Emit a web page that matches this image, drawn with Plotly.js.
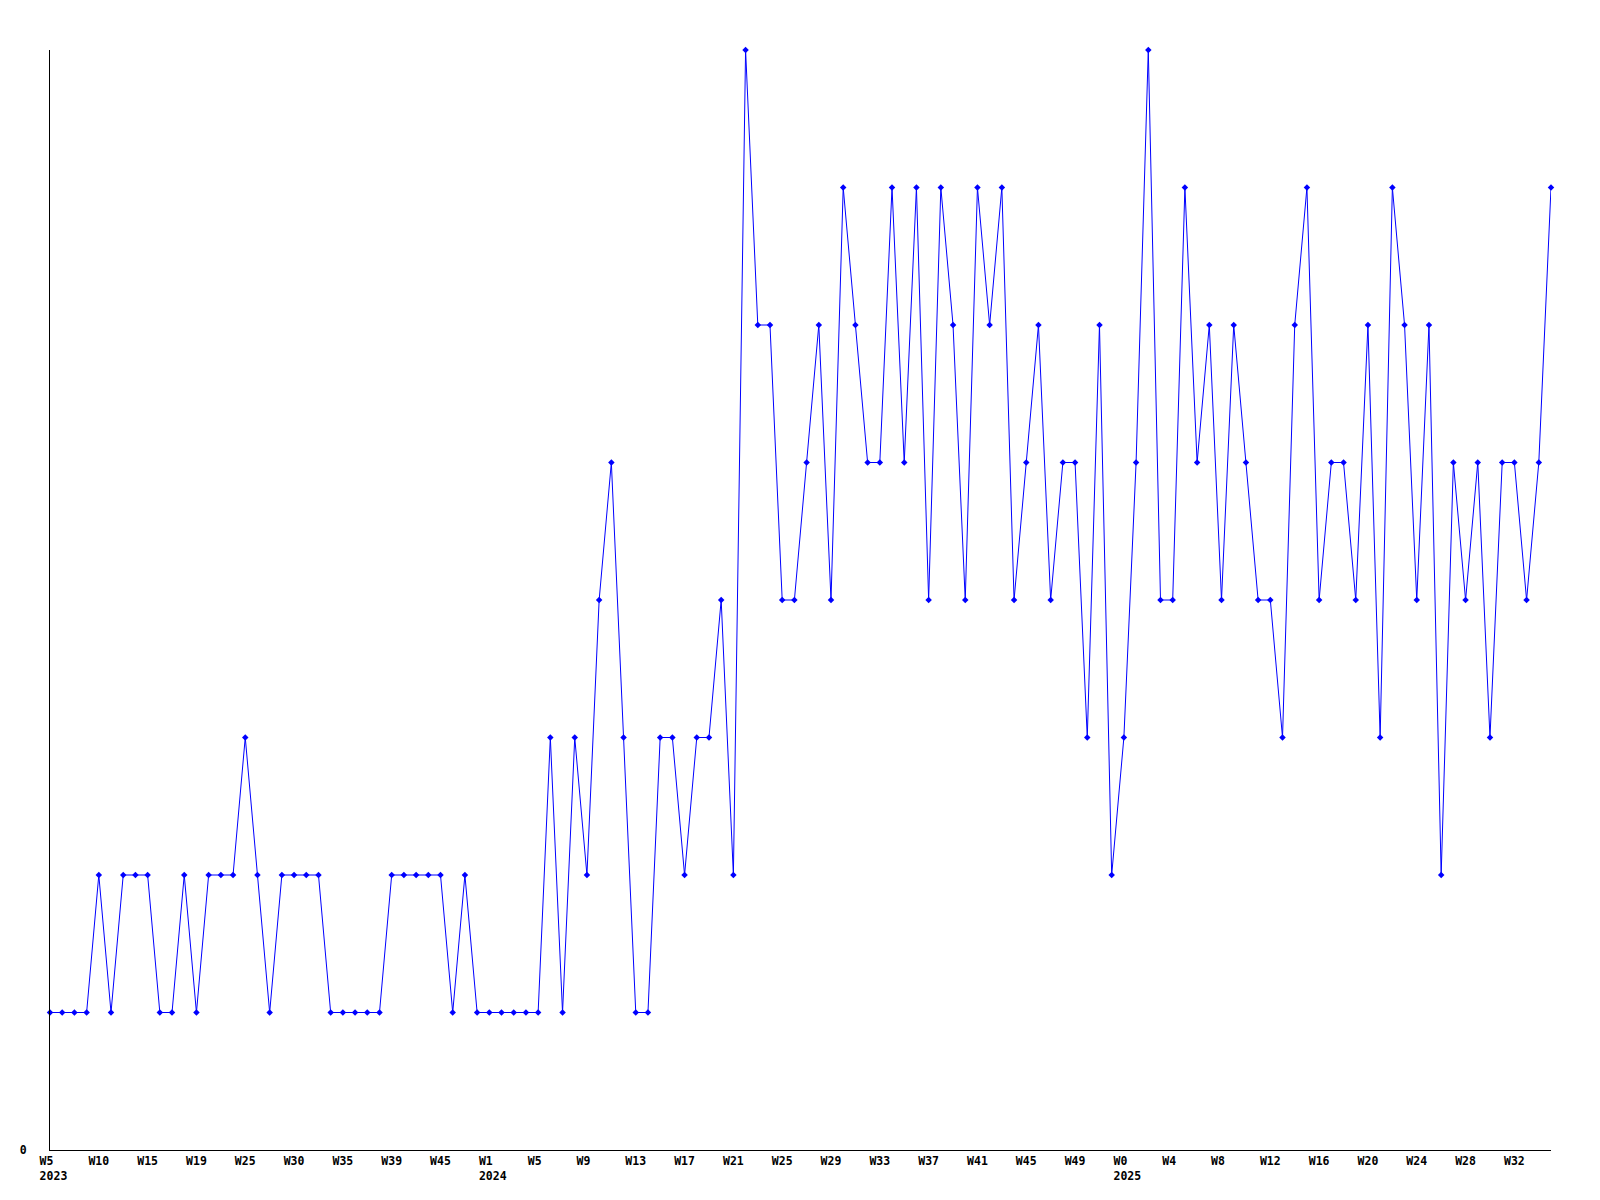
<!DOCTYPE html>
<html>
<head>
<meta charset="utf-8">
<script src="https://cdn.plot.ly/plotly-3.0.1.min.js"></script>
<style>html,body{margin:0;padding:0;background:#fff;}#chart{width:1600px;height:1200px;}</style>
</head>
<body>
<div id="chart"></div>
<script>
// Values, one per sample, in order
const values = [
  1,1,1,1,2,1,2,2,2,1,
  1,2,1,2,2,2,3,2,1,2,
  2,2,2,1,1,1,1,1,2,2,
  2,2,2,1,2,1,1,1,1,1,
  1,3,1,3,2,4,5,3,1,1,
  3,3,2,3,3,4,2,8,6,6,
  4,4,5,6,4,7,6,5,5,7,
  5,7,4,7,6,4,7,6,7,4,
  5,6,4,5,5,3,6,2,3,5,
  8,4,4,7,5,6,4,6,5,4,
  4,3,6,7,4,5,5,4,6,3,
  7,6,4,6,2,5,4,5,3,5,
  5,4,5,7
];
// Tick labels, one every 4 samples
const weekLabels = [
  "W5","W10","W15","W19","W25","W30","W35","W39","W45",
  "W1","W5","W9","W13","W17","W21","W25","W29","W33","W37","W41","W45","W49",
  "W0","W4","W8","W12","W16","W20","W24","W28","W32"
];
const yearLabels = {0: "2023", 9: "2024", 22: "2025"};
const tickStep = 4;

// left-align labels in monospace text: pad with non-breaking spaces
const NB = "\u00a0";
const padTo = (s, n) => s + NB.repeat(Math.max(0, n - s.length));
const tickText = weekLabels.map((w, i) =>
  yearLabels[i] ? NB + padTo(w, 4) + "<br>" + NB + yearLabels[i] : padTo(w, 3));

const xs = values.map((v, i) => i);
const tickVals = weekLabels.map((t, i) => i * tickStep);

const font = {family: "DejaVu Sans Mono, monospace", size: 11.5, color: "#000", weight: "bold"};

Plotly.newPlot("chart", [{
  x: xs,
  y: values,
  type: "scatter",
  mode: "lines+markers",
  line: {color: "#0000ff", width: 1},
  marker: {color: "#0000ff", size: 5, symbol: "diamond"},
  cliponaxis: false,
  hoverinfo: "skip"
}], {
  width: 1600,
  height: 1200,
  margin: {l: 50, r: 49, t: 50, b: 50},
  paper_bgcolor: "#fff",
  plot_bgcolor: "#fff",
  showlegend: false,
  font: font,
  xaxis: {
    range: [0, values.length - 1],
    tickmode: "array",
    tickvals: tickVals,
    ticktext: tickText,
    ticks: "",
    showgrid: false,
    zeroline: false,
    showline: true,
    linecolor: "#000",
    linewidth: 1,
    tickfont: font,
    tickangle: 0
  },
  yaxis: {
    range: [0, 8],
    tickmode: "array",
    tickvals: [0],
    ticktext: ["0"],
    ticks: "",
    ticklabelstandoff: 20,
    showgrid: false,
    zeroline: false,
    showline: true,
    linecolor: "#000",
    linewidth: 1,
    tickfont: font
  }
}, {staticPlot: true});
</script>
</body>
</html>
